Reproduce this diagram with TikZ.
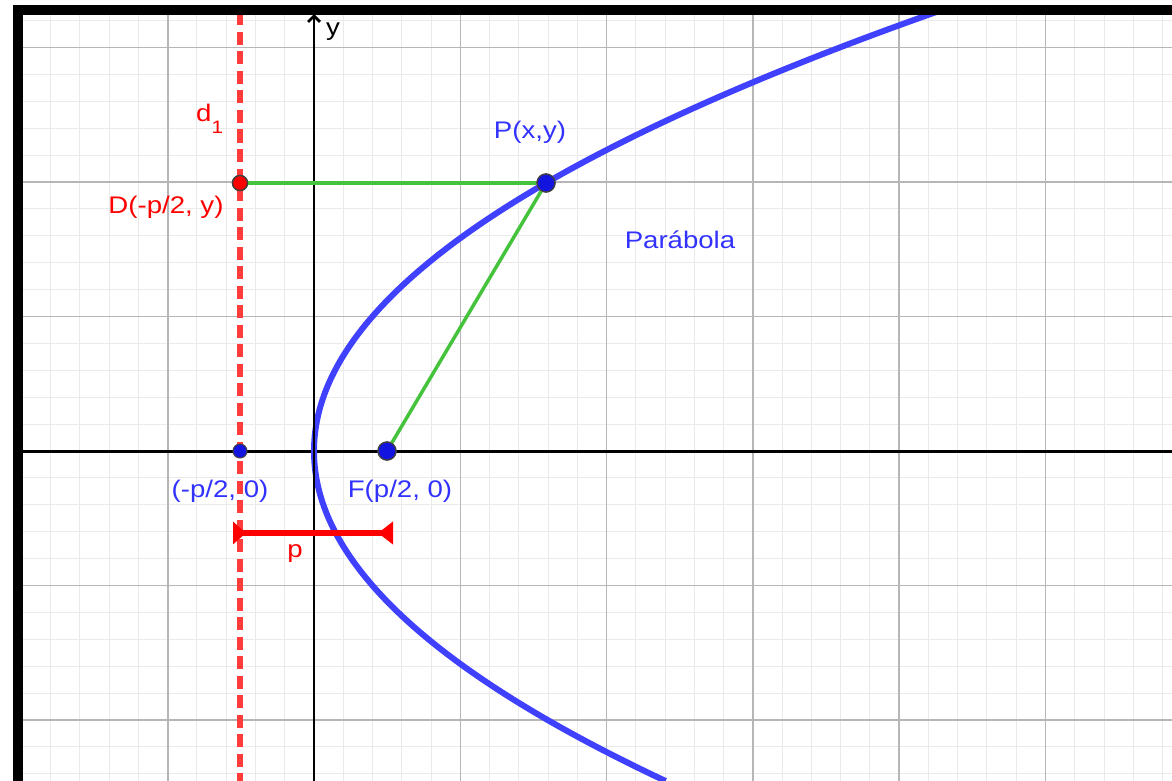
\documentclass[tikz,border=0pt]{standalone}
\usepackage{fontspec}
\setmainfont{Liberation Sans}[FakeStretch=1.15]
\usetikzlibrary{arrows.meta}
\definecolor{gminor}{RGB}{234,234,234}
\definecolor{gmajor}{RGB}{182,182,182}
\definecolor{parabblue}{RGB}{64,64,255}
\definecolor{lblblue}{RGB}{50,50,255}
\definecolor{ptblue}{RGB}{20,20,225}
\definecolor{dirred}{RGB}{255,60,60}
\definecolor{lnred}{RGB}{255,0,0}
\definecolor{lngreen}{RGB}{70,195,60}
\tikzset{
  minorline/.style={draw=gminor, line width=1pt},
  majorline/.style={draw=gmajor, line width=1.6pt},
  axisline/.style={draw=black, line width=3pt},
  lbl/.style={font=\fontsize{24}{28}\selectfont, inner sep=0pt},
  bigpt/.style={circle, fill=ptblue, draw=black!75, line width=1.3pt, minimum size=18pt, inner sep=0pt},
  smallpt/.style={circle, fill=ptblue, draw=black!75, line width=1pt, minimum size=14pt, inner sep=0pt},
  redpt/.style={circle, fill=lnred, draw=black!75, line width=1.3pt, minimum size=15pt, inner sep=0pt},
  greenline/.style={draw=lngreen, line width=3.5pt},
}
\begin{document}
\begin{tikzpicture}[x=1pt,y=-1pt]
\useasboundingbox (0,0) rectangle (1172,781);
\fill[white] (0,0) rectangle (1172,781);
\begin{scope}
  \clip (23,15) rectangle (1172,781);
  % minor grid
  \foreach \i in {-10,...,30} \draw[minorline] ({314+29.26*\i},0) -- ++(0,781);
  \foreach \j in {-17,...,13} \draw[minorline] (0,{451+26.9*\j}) -- ++(1172,0);
  % major grid
  \foreach \i in {-2,...,6} \draw[majorline] ({314+146.3*\i},0) -- ++(0,781);
  \foreach \j in {-4,...,3} \draw[majorline] (0,{451+134.5*\j}) -- ++(1172,0);
  % x axis
  \coordinate (xl) at (23,451);
  \coordinate (xr) at (1172,451);
  \draw[axisline] (xl) -- (xr);
  % directrix
  \coordinate (dtop) at (240,12.5);
  \coordinate (dbot) at (240,781);
  \draw[draw=dirred, line width=6pt, dash pattern=on 13pt off 6.5pt] (dtop) -- (dbot);
  % parabola
  \draw[draw=parabblue, line width=6pt, line join=round]
    plot[domain=5:781, samples=160, smooth] ({314+(0.05683*(\x-451))*(0.05683*(\x-451))},\x);
\end{scope}
% y axis
\coordinate (yb) at (314,781);
\coordinate (yt) at (314,14);
\draw[axisline, line width=2.8pt, -{Straight Barb[length=6pt,width=12pt]}] (yb) -- (yt);
\node[lbl, anchor=base west] (ylab) at (326,36) {y};
% points
\node[redpt] (D) at (240,183) {};
\node[bigpt] (P) at (546,183) {};
\node[bigpt] (F) at (387,451) {};
\node[smallpt] (Q) at (240,451) {};
% green segments
\draw[greenline] (D.east) -- (P.west);
\draw[greenline] (P) -- (F);
\node[redpt] at (D) {};
\node[bigpt] at (P) {};
\node[bigpt] at (F) {};
% p segment
\coordinate (pl) at (233,533);
\coordinate (pr) at (393,533);
\draw[draw=lnred, line width=6pt, {Triangle[reversed,length=13pt,width=22pt]}-{Triangle[reversed,length=15pt,width=22pt]}] (pl) -- (pr);
% labels
\node[lbl, text=lnred, anchor=base west] (dlab) at (196,122) {d\raisebox{-12pt}{\fontsize{18}{18}\selectfont 1}};
\node[lbl, text=lnred, anchor=base] (Dlab) at (166,213) {D(-p/2, y)};
\node[lbl, text=lblblue, anchor=base] (Plab) at (530,139) {P(x,y)};
\node[lbl, text=lblblue, anchor=base] (parlab) at (680,248) {Parábola};
\node[lbl, text=lblblue, anchor=base] (Qlab) at (220,497) {(-p/2, 0)};
\node[lbl, text=lblblue, anchor=base] (Flab) at (400,497) {F(p/2, 0)};
\node[lbl, text=lnred, anchor=base] (plab) at (295,557) {p};
% frame
\fill[black] (13,5) rectangle (23,781);
\fill[black] (13,5) rectangle (1172,15);
\end{tikzpicture}
\end{document}
